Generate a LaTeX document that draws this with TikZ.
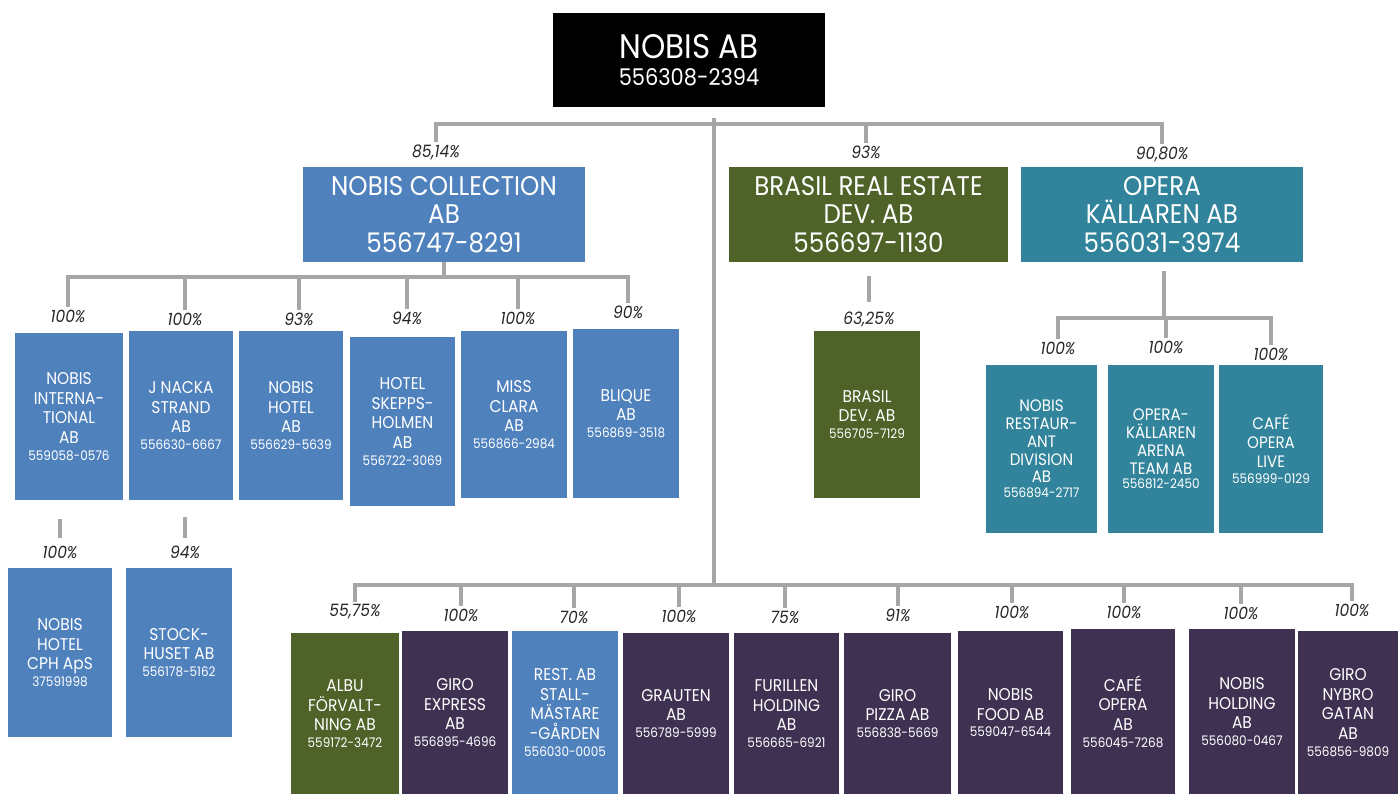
\documentclass[tikz,border=0pt]{standalone}
\usepackage{fontspec}
\setmainfont{Poppins}[FakeStretch=0.91]

\definecolor{nobisblue}{HTML}{4F81BD}
\definecolor{nobisgreen}{HTML}{4F6228}
\definecolor{nobisteal}{HTML}{31849B}
\definecolor{nobispurple}{HTML}{3F3151}
\definecolor{linegray}{HTML}{A6A6A6}

\newcommand{\orgnr}[1]{\\[-1.5pt]{\fontsize{6.6}{8}\selectfont #1}}

\begin{document}
\begin{tikzpicture}[x=0.5pt,y=-0.5pt,
    bolag/.style={text=white,align=center,inner sep=0pt,font=\fontsize{8.5}{9.8}\selectfont},
    stor/.style={text=white,align=center,inner sep=0pt,font=\fontsize{13.5}{14.3}\selectfont},
    andel/.style={text=black!85,inner sep=1pt,font=\fontsize{8.5}{10}\selectfont\itshape},
    linje/.style={draw=linegray,line width=2pt}]

    \useasboundingbox (0,0) rectangle (1398,794);

    %Morselskap
        \node[text=white,align=center,inner sep=0pt,fill=black,minimum width=136pt,minimum height=47pt,
              font=\fontsize{17}{13.5}\selectfont] (nobis) at (689,60)
              {NOBIS AB\\{\fontsize{11.5}{13.5}\selectfont 556308-2394}};

    %Datterselskap
        \node[stor,fill=nobisblue,minimum width=141pt,minimum height=47.5pt] (coll) at (444,214.5)
              {NOBIS COLLECTION\\AB\\556747-8291};
        \node[stor,fill=nobisgreen,minimum width=139.5pt,minimum height=47.5pt] (brasil) at (868.5,214.5)
              {BRASIL REAL ESTATE\\DEV. AB\\556697-1130};
        \node[stor,fill=nobisteal,minimum width=141pt,minimum height=47.5pt] (opera) at (1162,214.5)
              {OPERA\\KÄLLAREN AB\\556031-3974};

        \node[andel] (p8514) at (436,152) {85,14\%};
        \node[andel] (p93) at (866,152) {93\%};
        \node[andel] (p9080) at (1162,154) {90,80\%};

    %Nobis Collection
        \node[bolag,fill=nobisblue,minimum width=54pt,minimum height=83.5pt] (c1) at (69,416.5)
              {NOBIS\\INTERNA-\\TIONAL\\AB\orgnr{559058-0576}};
        \node[bolag,fill=nobisblue,minimum width=52pt,minimum height=84.5pt] (c2) at (181,415.5)
              {J NACKA\\STRAND\\AB\orgnr{556630-6667}};
        \node[bolag,fill=nobisblue,minimum width=52pt,minimum height=84.5pt] (c3) at (291,415.5)
              {NOBIS\\HOTEL\\AB\orgnr{556629-5639}};
        \node[bolag,fill=nobisblue,minimum width=52.5pt,minimum height=84.5pt] (c4) at (402.5,421.5)
              {HOTEL\\SKEPPS-\\HOLMEN\\AB\orgnr{556722-3069}};
        \node[bolag,fill=nobisblue,minimum width=53pt,minimum height=83.5pt] (c5) at (514,414.5)
              {MISS\\CLARA\\AB\orgnr{556866-2984}};
        \node[bolag,fill=nobisblue,minimum width=53pt,minimum height=84.5pt] (c6) at (626,413.5)
              {BLIQUE\\AB\orgnr{556869-3518}};

        \node[andel] (pc1) at (68,316) {100\%};
        \node[andel] (pc2) at (185,319) {100\%};
        \node[andel] (pc3) at (299,319) {93\%};
        \node[andel] (pc4) at (407,318) {94\%};
        \node[andel] (pc5) at (518,318) {100\%};
        \node[andel] (pc6) at (628,312) {90\%};

        \node[bolag,fill=nobisblue,minimum width=52pt,minimum height=84.5pt] (d1) at (60,652.5)
              {NOBIS\\HOTEL\\CPH ApS\orgnr{37591998}};
        \node[bolag,fill=nobisblue,minimum width=53pt,minimum height=84.5pt] (d2) at (179,652.5)
              {STOCK-\\HUSET AB\orgnr{556178-5162}};

        \node[andel] (pd1) at (60,552) {100\%};
        \node[andel] (pd2) at (185,552) {94\%};

    %Brasil
        \node[bolag,fill=nobisgreen,minimum width=53pt,minimum height=83.5pt] (e1) at (867,414.5)
              {BRASIL\\DEV. AB\orgnr{556705-7129}};
        \node[andel] (pe1) at (869,319) {63,25\%};

    %Operakällaren
        \node[bolag,fill=nobisteal,minimum width=55.5pt,minimum height=84pt,font=\fontsize{8.3}{8.9}\selectfont] (o1) at (1041.5,449)
              {NOBIS\\RESTAUR-\\ANT\\DIVISION\\AB\orgnr{556894-2717}};
        \node[bolag,fill=nobisteal,minimum width=53pt,minimum height=84pt,font=\fontsize{8.3}{8.9}\selectfont] (o2) at (1161,449)
              {OPERA-\\KÄLLAREN\\ARENA\\TEAM AB\orgnr{556812-2450}};
        \node[bolag,fill=nobisteal,minimum width=52pt,minimum height=84pt,font=\fontsize{8.3}{9.6}\selectfont] (o3) at (1271,449)
              {CAFÉ\\OPERA\\LIVE\orgnr{556999-0129}};

        \node[andel] (po1) at (1058,348) {100\%};
        \node[andel] (po2) at (1166,347) {100\%};
        \node[andel] (po3) at (1271,354) {100\%};

    %Direkte eide
        \node[bolag,fill=nobisgreen,minimum width=54pt,minimum height=80.5pt] (b1) at (345,713.5)
              {ALBU\\FÖRVALT-\\NING AB\orgnr{559172-3472}};
        \node[bolag,fill=nobispurple,minimum width=53pt,minimum height=81.5pt] (b2) at (455,712.5)
              {GIRO\\EXPRESS\\AB\orgnr{556895-4696}};
        \node[bolag,fill=nobisblue,minimum width=53pt,minimum height=81.5pt] (b3) at (565,712.5)
              {REST. AB\\STALL-\\MÄSTARE\\-GÅRDEN\orgnr{556030-0005}};
        \node[bolag,fill=nobispurple,minimum width=53pt,minimum height=80.5pt] (b4) at (676,713.5)
              {GRAUTEN\\AB\orgnr{556789-5999}};
        \node[bolag,fill=nobispurple,minimum width=52.5pt,minimum height=80.5pt] (b5) at (786.5,713.5)
              {FURILLEN\\HOLDING\\AB\orgnr{556665-6921}};
        \node[bolag,fill=nobispurple,minimum width=53.5pt,minimum height=80.5pt] (b6) at (897.5,713.5)
              {GIRO\\PIZZA AB\orgnr{556838-5669}};
        \node[bolag,fill=nobispurple,minimum width=52.5pt,minimum height=81.5pt] (b7) at (1010.5,712.5)
              {NOBIS\\FOOD AB\orgnr{559047-6544}};
        \node[bolag,fill=nobispurple,minimum width=52pt,minimum height=82.5pt] (b8) at (1123,711.5)
              {CAFÉ\\OPERA\\AB\orgnr{556045-7268}};
        \node[bolag,fill=nobispurple,minimum width=53pt,minimum height=82.5pt] (b9) at (1242,711.5)
              {NOBIS\\HOLDING\\AB\orgnr{556080-0467}};
        \node[bolag,fill=nobispurple,minimum width=50pt,minimum height=81.5pt] (b10) at (1348,712.5)
              {GIRO\\NYBRO\\GATAN\\AB\orgnr{556856-9809}};

        \node[andel] (pb1) at (355,612) {55,75\%};
        \node[andel] (pb2) at (461,615) {100\%};
        \node[andel] (pb3) at (574,617) {70\%};
        \node[andel] (pb4) at (679,616) {100\%};
        \node[andel] (pb5) at (785,617) {75\%};
        \node[andel] (pb6) at (898,615) {91\%};
        \node[andel] (pb7) at (1012,612) {100\%};
        \node[andel] (pb8) at (1124,612) {100\%};
        \node[andel] (pb9) at (1241,613) {100\%};
        \node[andel] (pb10) at (1352,610) {100\%};

    %Linjer
        \coordinate (topbus) at (714,124);
        \coordinate (stammetopp) at (714,118);
        \coordinate (bunnbus) at (714,585);
        \coordinate (collbus) at (444,277);
        \coordinate (operabus) at (1164,318);

        \draw[linje] (stammetopp) -- (bunnbus);
        \draw[linje] (p8514.north) -- (p8514.north |- topbus) -- (p9080.north |- topbus) -- (p9080.north);
        \draw[linje] (p93.north |- topbus) -- (p93.north);

        \draw[linje] (coll.south) -- (collbus);
        \draw[linje] (pc1.north) -- (pc1.north |- collbus) -- (pc6.north |- collbus) -- (pc6.north);
        \foreach \n in {pc2,pc3,pc4,pc5}
            \draw[linje] (\n.north |- collbus) -- (\n.north);

        \draw[linje] (pd1.north) ++(0,-5) -- ++(0,-19);
        \draw[linje] (pd2.north) ++(0,-5) -- ++(0,-21);

        \draw[linje] (brasil.south) ++(0,14) -- ++(0,26);

        \draw[linje] (opera.south) ++(2,9) -- (operabus);
        \draw[linje] (po1.north) -- (po1.north |- operabus) -- (po3.north |- operabus) -- (po3.north);
        \draw[linje] (po2.north |- operabus) -- (po2.north);

        \draw[linje] (pb1.north) -- (pb1.north |- bunnbus) -- (pb10.north |- bunnbus) -- (pb10.north);
        \foreach \n in {pb2,pb3,pb4,pb5,pb6,pb7,pb8,pb9}
            \draw[linje] (\n.north |- bunnbus) -- (\n.north);

\end{tikzpicture}
\end{document}
